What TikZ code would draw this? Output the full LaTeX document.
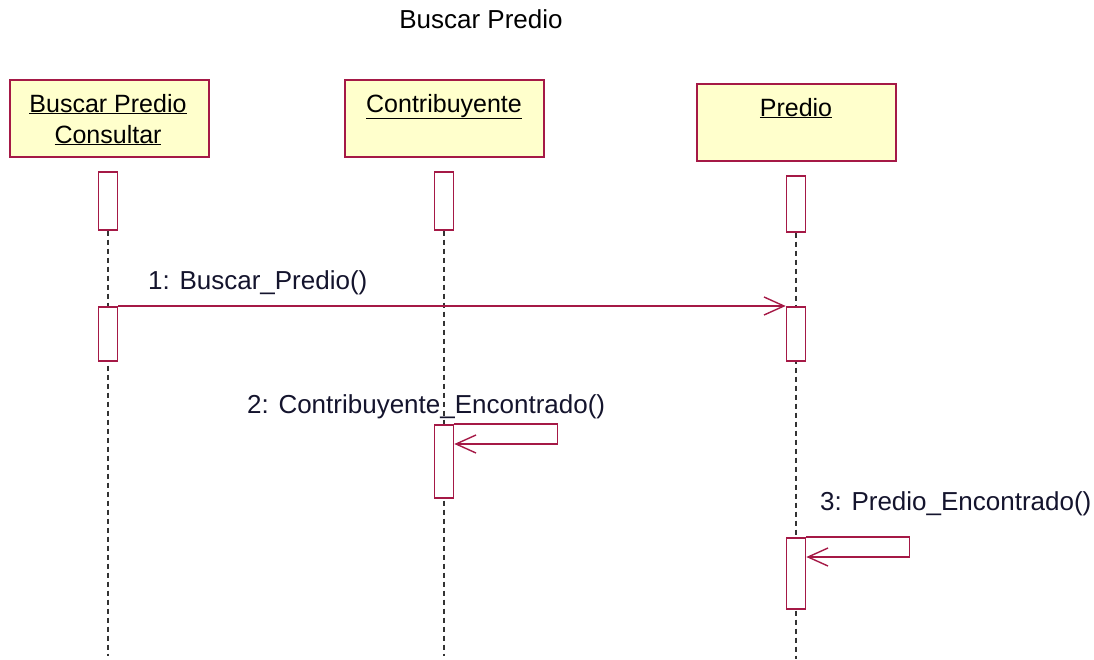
\documentclass[tikz,border=0pt]{standalone}
\usepackage{fontspec}
\setmainfont{Liberation Sans}
\usetikzlibrary{arrows.meta,backgrounds,calc}
\definecolor{umlred}{RGB}{165,25,70}
\definecolor{umlfill}{RGB}{255,255,204}
\definecolor{txt}{RGB}{20,20,45}
\begin{document}
\begin{tikzpicture}[x=1pt,y=-1pt,
  headbox/.style={draw=umlred, fill=umlfill, line width=1.6pt, minimum width=199pt, minimum height=77pt, anchor=north west, inner sep=0pt},
  headtxt/.style={text=black, font=\fontsize{25}{31}\selectfont, align=center, anchor=base, inner sep=0pt},
  actbox/.style={draw=umlred, fill=white, line width=1.6pt, minimum width=19pt, anchor=north, inner sep=0pt},
  lifeline/.style={draw=black!80, line width=1.5pt, dash pattern=on 5pt off 4pt},
  msg/.style={draw=umlred, line width=1.4pt, -{Straight Barb[length=20pt,width=18pt,line width=1.4pt]}},
  lbl/.style={text=txt, font=\fontsize{26}{28}\selectfont, anchor=base west, inner sep=0pt}]
\useasboundingbox (0,0) rectangle (1094,659);
\node[font=\fontsize{26}{28}\selectfont, anchor=base, inner sep=0pt] (title) at (481,28) {Buscar Predio};
% heads
\node[headbox] (h1) at (9,79) {};
\node[headbox] (h2) at (344,79) {};
\node[headbox] (h3) at (696,83) {};
\node[headtxt] (h1t) at (108,143) {\underline{Buscar Predio}\\\underline{Consultar}};
\node[headtxt] (h2t) at (444,112) {\underline{Contribuyente}};
\node[headtxt] (h3t) at (796,116) {\underline{Predio}};
% activations
\node[actbox, minimum height=58pt] (a1a) at (108,171) {};
\node[actbox, minimum height=58pt] (a2a) at (444,171) {};
\node[actbox, minimum height=56pt] (a3a) at (796,175) {};
\node[actbox, minimum height=54pt] (a1b) at (108,306) {};
\node[actbox, minimum height=54pt] (a3b) at (796,306) {};
\node[actbox, minimum height=73pt] (a2b) at (444,424) {};
\node[actbox, minimum height=71pt] (a3c) at (796,537) {};
\coordinate (e1) at (108,656);
\coordinate (e2) at (444,656);
\coordinate (e3) at (796,659);
\begin{scope}[on background layer]
\draw[lifeline] (a1a.south) -- (e1);
\draw[lifeline] (a2a.south) -- (e2);
\draw[lifeline] (a3a.south) -- (e3);
\end{scope}
% messages
\draw[msg] (a1b.north east) -- (a3b.north west);
\node[lbl] (m1) at (148,289) {1: Buscar\_Predio()};
\draw[msg] (a2b.north east) -- ++(103,0) -- ++(0,20) -- ([yshift=-20pt]a2b.north east);
\node[lbl] (m2) at (247,413) {2: Contribuyente\_Encontrado()};
\draw[msg] (a3c.north east) -- ++(103,0) -- ++(0,20) -- ([yshift=-20pt]a3c.north east);
\node[lbl] (m3) at (820,510) {3: Predio\_Encontrado()};
\end{tikzpicture}
\end{document}
